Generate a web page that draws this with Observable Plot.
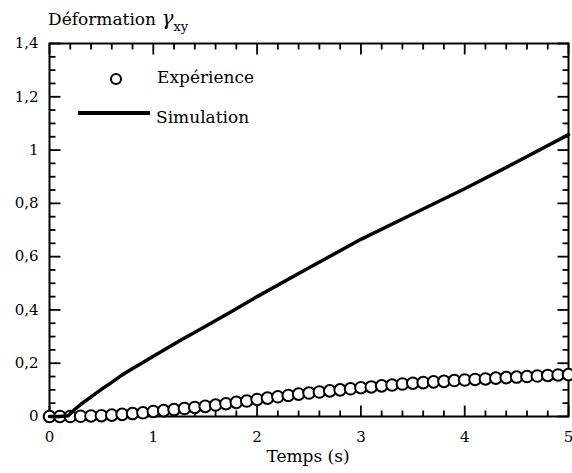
<!DOCTYPE html>
<html><head><meta charset="utf-8">
<script src="https://cdn.jsdelivr.net/npm/d3@7"></script>
<script src="https://cdn.jsdelivr.net/npm/@observablehq/plot@0.6"></script>
<style>
body{margin:0;background:#fff;}
#wrap{position:relative;width:572px;height:473px;font-family:"DejaVu Serif",serif;color:#000;overflow:hidden;}
#wrap svg{position:absolute;left:0;top:0;}
.lbl{position:absolute;font-size:17px;line-height:17px;white-space:nowrap;}
#title{left:48px;top:10px;}
#title .g{font-size:20px;font-style:italic;}
#title sub{font-size:13px;vertical-align:-6px;}
#legCircle{position:absolute;left:110px;top:73px;width:8px;height:8px;border:2px solid #000;border-radius:50%;background:#fff;}
#legLine{position:absolute;left:78px;top:111px;width:72px;height:3.5px;background:#000;}
#legExp{left:157px;top:69px;}
#legSim{left:156px;top:109px;}
#xlabel{left:308px;top:448px;transform:translateX(-50%);}
</style></head><body>
<div id="wrap">
  <div class="lbl" id="title">Déformation <span class="g">γ</span><sub>xy</sub></div>
  <div id="legCircle"></div><div class="lbl" id="legExp">Expérience</div>
  <div id="legLine"></div><div class="lbl" id="legSim">Simulation</div>
  <div class="lbl" id="xlabel">Temps (s)</div>
</div>
<script>
// Simulation (solid line)
const simTime  = [0, 0.1, 0.18, 0.23, 0.3, 0.4, 0.5, 0.6, 0.7, 0.8, 0.9, 1.0, 1.25, 1.5, 1.75, 2.0, 2.5, 3.0, 3.5, 4.0, 4.5, 5.0];
const simValue = [0, 0, 0.003, 0.022, 0.045, 0.074, 0.102, 0.128, 0.156, 0.18, 0.203, 0.226, 0.283, 0.338, 0.393, 0.45, 0.558, 0.665, 0.76, 0.855, 0.955, 1.058];

// Expérience (open circles), every 0.1 s
const expTime = [0,0.1,0.2,0.3,0.4,0.5,0.6,0.7,0.8,0.9,1.0,1.1,1.2,1.3,1.4,1.5,1.6,1.7,1.8,1.9,2.0,2.1,2.2,2.3,2.4,2.5,2.6,2.7,2.8,2.9,3.0,3.1,3.2,3.3,3.4,3.5,3.6,3.7,3.8,3.9,4.0,4.1,4.2,4.3,4.4,4.5,4.6,4.7,4.8,4.9,5.0];
const expValue = [0,0,0,0.001,0.002,0.003,0.005,0.008,0.011,0.014,0.019,0.022,0.026,0.03,0.034,0.038,0.043,0.048,0.053,0.058,0.064,0.069,0.074,0.079,0.084,0.088,0.092,0.096,0.1,0.104,0.108,0.111,0.115,0.118,0.122,0.125,0.127,0.13,0.132,0.135,0.137,0.139,0.141,0.144,0.146,0.148,0.15,0.152,0.154,0.156,0.157];

// Axis ticks
const xTicks = [0, 1, 2, 3, 4, 5];
const xMinor = [0.2,0.4,0.6,0.8,1.2,1.4,1.6,1.8,2.2,2.4,2.6,2.8,3.2,3.4,3.6,3.8,4.2,4.4,4.6,4.8];
const yTicks = [0, 0.2, 0.4, 0.6, 0.8, 1, 1.2, 1.4];
const yMinor = [0.05,0.1,0.15,0.25,0.3,0.35,0.45,0.5,0.55,0.65,0.7,0.75,0.85,0.9,0.95,1.05,1.1,1.15,1.25,1.3,1.35];

const W = 572, H = 473, mt = 43, mr = 4, mb = 57, ml = 49;
const PW = W - ml - mr, PH = H - mt - mb;
const XD = [0, 5], YD = [0, 1.4];
// inward tick lengths in pixels, converted to data units
const MAJ = 11, MIN = 6;
const yLen = px => px * (YD[1] - YD[0]) / PH;
const xLen = px => px * (XD[1] - XD[0]) / PW;

const sim = simTime.map((t, i) => ({t, v: simValue[i]}));
const exp = expTime.map((t, i) => ({t, v: expValue[i]}));

const tk = {stroke: "black", strokeWidth: 1.8};
const vTicks = (data, yFrom, len) => Plot.link(data, {x1: d => d, x2: d => d, y1: yFrom, y2: yFrom + len, ...tk});
const hTicks = (data, xFrom, len) => Plot.link(data, {y1: d => d, y2: d => d, x1: xFrom, x2: xFrom + len, ...tk});

const chart = Plot.plot({
  width: W, height: H,
  marginTop: mt, marginRight: mr, marginBottom: mb, marginLeft: ml,
  style: {fontFamily: "DejaVu Serif, serif", fontSize: "15px", color: "black", overflow: "visible"},
  x: {domain: XD, ticks: xTicks, tickSize: 0, tickPadding: 15, tickFormat: d => String(d), label: null},
  y: {domain: YD, ticks: yTicks, tickSize: 0, tickPadding: 11,
      tickFormat: d => String(d).replace(".", ","), label: null},
  marks: [
    Plot.frame({strokeWidth: 2}),
    vTicks(xMinor, YD[0], yLen(MIN)),
    vTicks(xMinor, YD[1], -yLen(MIN)),
    vTicks(xTicks, YD[0], yLen(MAJ)),
    vTicks(xTicks, YD[1], -yLen(MAJ)),
    hTicks(yMinor, XD[0], xLen(MIN)),
    hTicks(yMinor, XD[1], -xLen(MIN)),
    hTicks(yTicks, XD[0], xLen(MAJ)),
    hTicks(yTicks, XD[1], -xLen(MAJ)),
    Plot.dot(exp, {x: "t", y: "v", r: 5.8, fill: "white", stroke: "black", strokeWidth: 2}),
    Plot.line(sim, {x: "t", y: "v", stroke: "black", strokeWidth: 3.5})
  ]
});
const wrap = document.getElementById("wrap");
wrap.insertBefore(chart, wrap.firstChild);
</script>
</body></html>
